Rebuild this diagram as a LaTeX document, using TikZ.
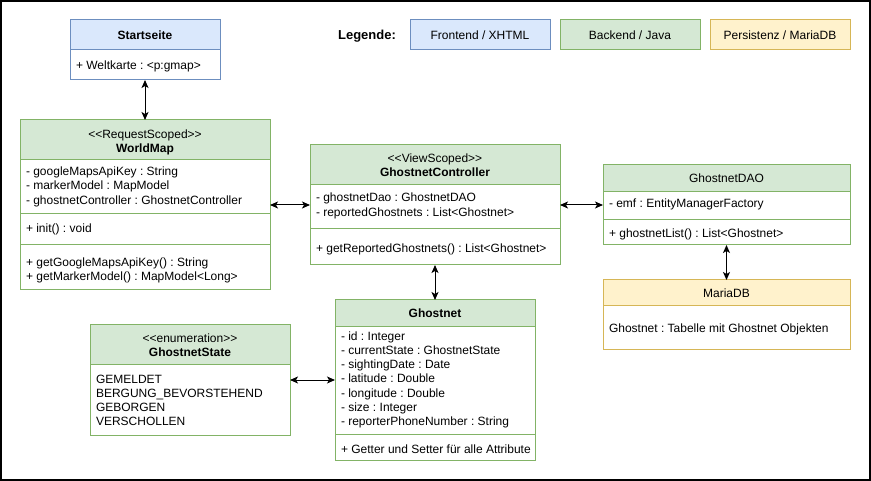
\documentclass[tikz,border=0pt]{standalone}
\usepackage{fontspec}
\setmainfont{Liberation Sans}
\usetikzlibrary{arrows.meta}

\definecolor{feFill}{HTML}{DAE8FC}
\definecolor{feLine}{HTML}{6C8EBF}
\definecolor{beFill}{HTML}{D5E8D4}
\definecolor{beLine}{HTML}{82B366}
\definecolor{dbFill}{HTML}{FFF2CC}
\definecolor{dbLine}{HTML}{D6B656}

\tikzset{
  every node/.style={font=\fontsize{12}{14}\selectfont, inner sep=0pt, outer sep=0pt},
  classbox/.style={draw, line width=1pt, fill=white, rectangle},
  txt/.style={anchor=west, text height=8.6pt, text depth=0pt},
  title/.style={font=\fontsize{12}{14}\selectfont\bfseries, text height=8.6pt, text depth=0pt},
  plaintitle/.style={text height=8.6pt, text depth=0pt},
  stereo/.style={text height=8.6pt, text depth=0pt},
  legbox/.style={draw, line width=1pt, minimum width=140pt, minimum height=30pt, text height=8.6pt, text depth=0pt},
  tip/.tip={Stealth[length=8pt, width=7pt, inset=2pt]},
  link/.style={line width=1pt, tip-tip},
}

\begin{document}
\frenchspacing
\begin{tikzpicture}[x=1pt, y=-1pt]
\useasboundingbox (0,0) rectangle (871,481);
\draw[line width=2pt] (1,1) rectangle (869.5,479.5);

% legend
\node[font=\fontsize{13}{15}\selectfont\bfseries, text height=9.3pt, text depth=0pt] (legtitle) at (367,35) {Legende:};
\node[legbox, fill=feFill, draw=feLine] (legfe) at (480,35) {Frontend / XHTML};
\node[legbox, fill=beFill, draw=beLine] (legbe) at (630,35) {Backend / Java};
\node[legbox, fill=dbFill, draw=dbLine] (legdb) at (780,35) {Persistenz / MariaDB};

% Startseite (frontend)
\node[classbox, draw=feLine, minimum width=150pt, minimum height=60pt] (start) at (145,50) {};
\filldraw[fill=feFill, draw=feLine, line width=1pt] (70,20) rectangle (220,50);
\node[title] (start-name) at (145,35) {Startseite};
\node[txt] (start-attr) at (76,65) {+ Weltkarte : <p:gmap>};

% WorldMap
\node[classbox, draw=beLine, minimum width=250pt, minimum height=170pt] (worldmap) at (145,205) {};
\filldraw[fill=beFill, draw=beLine, line width=1pt] (20,120) rectangle (270,160);
\node[stereo] (wm-stereo) at (145,134) {<{}<RequestScoped>{}>};
\node[title] (wm-name) at (145,148) {WorldMap};
\foreach \t [count=\i] in {- googleMapsApiKey : String, - markerModel : MapModel, - ghostnetController : GhostnetController}
  \node[txt] (wm-attr-\i) at (26,157+14.3*\i) {\t};
\draw[beLine, line width=1pt] (20,214) -- (270,214);
\node[txt] (wm-init) at (26,228) {+ init() : void};
\draw[beLine, line width=1pt] (20,245) -- (270,245);
\node[txt] (wm-op-1) at (26,262) {+ getGoogleMapsApiKey() : String};
\node[txt] (wm-op-2) at (26,276.3) {+ getMarkerModel() : MapModel<Long>};

% GhostnetController
\node[classbox, draw=beLine, minimum width=250pt, minimum height=120pt] (ctrl) at (435,205) {};
\filldraw[fill=beFill, draw=beLine, line width=1pt] (310,145) rectangle (560,185);
\node[stereo] (ctrl-stereo) at (435,158) {<{}<ViewScoped>{}>};
\node[title] (ctrl-name) at (435,172) {GhostnetController};
\node[txt] (ctrl-attr-1) at (316,197.5) {- ghostnetDao : GhostnetDAO};
\node[txt] (ctrl-attr-2) at (316,212) {- reportedGhostnets : List<Ghostnet>};
\draw[beLine, line width=1pt] (310,229) -- (560,229);
\node[txt] (ctrl-op-1) at (316,248) {+ getReportedGhostnets() : List<Ghostnet>};

% GhostnetDAO
\node[classbox, draw=beLine, minimum width=247pt, minimum height=80pt] (dao) at (726.5,205) {};
\filldraw[fill=beFill, draw=beLine, line width=1pt] (603,165) rectangle (850,192);
\node[plaintitle] (dao-name) at (726.5,178.5) {GhostnetDAO};
\node[txt] (dao-attr) at (609,203.5) {- emf : EntityManagerFactory};
\draw[beLine, line width=1pt] (603,220) -- (850,220);
\node[txt] (dao-op) at (609,233) {+ ghostnetList() : List<Ghostnet>};

% MariaDB
\node[classbox, draw=dbLine, minimum width=247pt, minimum height=70pt] (db) at (726.5,315) {};
\filldraw[fill=dbFill, draw=dbLine, line width=1pt] (603,280) rectangle (850,306);
\node[plaintitle] (db-name) at (726.5,293) {MariaDB};
\node[txt] (db-row) at (609,328) {Ghostnet : Tabelle mit Ghostnet Objekten};

% Ghostnet
\node[classbox, draw=beLine, minimum width=200pt, minimum height=160pt] (ghostnet) at (435,380) {};
\filldraw[fill=beFill, draw=beLine, line width=1pt] (335,300) rectangle (535,327);
\node[title] (gn-name) at (435,313.5) {Ghostnet};
\foreach \t [count=\i] in {- id : Integer, - currentState : GhostnetState, - sightingDate : Date, - latitude : Double, - longitude : Double, - size : Integer, - reporterPhoneNumber : String}
  \node[txt] (gn-attr-\i) at (341,321.8+14.2*\i) {\t};
\draw[beLine, line width=1pt] (335,434) -- (535,434);
\node[txt] (gn-op) at (341,449) {+ Getter und Setter für alle Attribute};

% GhostnetState
\node[classbox, draw=beLine, minimum width=200pt, minimum height=110pt] (state) at (190,380) {};
\filldraw[fill=beFill, draw=beLine, line width=1pt] (90,325) rectangle (290,365);
\node[stereo] (st-stereo) at (190,338.5) {<{}<enumeration>{}>};
\node[title] (st-name) at (190,352.5) {GhostnetState};
\foreach \t [count=\i] in {GEMELDET, BERGUNG\_BEVORSTEHEND, GEBORGEN, VERSCHOLLEN}
  \node[txt] (st-val-\i) at (96,365+14.1*\i) {\t};

% associations
\draw[link] (start) -- (worldmap);
\draw[link] (worldmap) -- (ctrl);
\draw[link] (ctrl) -- (dao);
\draw[link] (ctrl) -- (ghostnet);
\draw[link] (dao) -- (db);
\draw[link] (state) -- (ghostnet);
\end{tikzpicture}
\end{document}
